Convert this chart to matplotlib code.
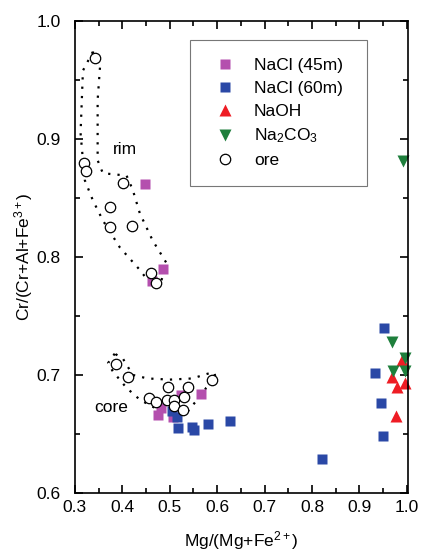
import matplotlib.pyplot as plt
from matplotlib.ticker import MultipleLocator

plt.rcParams['font.family'] = ['Liberation Sans', 'DejaVu Sans']
plt.rcParams['mathtext.fontset'] = 'custom'
plt.rcParams['mathtext.rm'] = 'Liberation Sans'
plt.rcParams['mathtext.it'] = 'Liberation Sans:italic'

# NaCl (45m)
nacl45_x = [0.447, 0.486, 0.462, 0.475, 0.482, 0.507, 0.524, 0.566]
nacl45_y = [0.862, 0.790, 0.780, 0.666, 0.672, 0.664, 0.683, 0.684]
# NaCl (60m)
nacl60_x = [0.504, 0.516, 0.517, 0.546, 0.551, 0.580, 0.628, 0.822, 0.945, 0.950, 0.953, 0.932]
nacl60_y = [0.669, 0.664, 0.655, 0.656, 0.653, 0.658, 0.661, 0.629, 0.676, 0.648, 0.740, 0.702]
# NaOH
naoh_x = [0.990, 0.969, 0.980, 0.997, 0.977]
naoh_y = [0.713, 0.698, 0.690, 0.693, 0.665]
# Na2CO3
na2co3_x = [0.992, 0.969, 0.996, 0.971, 0.997]
na2co3_y = [0.881, 0.728, 0.714, 0.703, 0.703]
# ore
ore_x = [0.342, 0.319, 0.323, 0.374, 0.374, 0.401, 0.420, 0.460, 0.472,
         0.386, 0.412, 0.456, 0.472, 0.496, 0.494, 0.510, 0.510, 0.531, 0.538, 0.529, 0.589]
ore_y = [0.969, 0.880, 0.873, 0.842, 0.825, 0.863, 0.826, 0.786, 0.778,
         0.709, 0.698, 0.680, 0.677, 0.690, 0.679, 0.679, 0.674, 0.681, 0.690, 0.670, 0.696]

# envelopes (dotted outlines)
rim_x = [0.338, 0.317, 0.312, 0.317, 0.321, 0.338, 0.359, 0.395, 0.437, 0.458, 0.479,
         0.493, 0.464, 0.437, 0.422, 0.409, 0.359, 0.348, 0.348, 0.353, 0.338]
rim_y = [0.974, 0.958, 0.905, 0.882, 0.865, 0.848, 0.831, 0.808, 0.789, 0.778, 0.775,
         0.795, 0.814, 0.837, 0.857, 0.869, 0.871, 0.882, 0.933, 0.961, 0.974]
core_x = [0.384, 0.370, 0.380, 0.409, 0.437, 0.464, 0.493, 0.517, 0.538, 0.552, 0.563,
          0.577, 0.598, 0.594, 0.580, 0.548, 0.500, 0.453, 0.422, 0.401, 0.384]
core_y = [0.718, 0.710, 0.703, 0.689, 0.679, 0.673, 0.668, 0.666, 0.669, 0.676, 0.681,
          0.689, 0.696, 0.702, 0.701, 0.697, 0.696, 0.697, 0.700, 0.714, 0.718]

fig = plt.figure(figsize=(4.23, 5.55), dpi=100)
ax = fig.add_axes([0.177, 0.112, 0.788, 0.850])

ax.plot(rim_x, rim_y, color='black', linestyle=(0, (1, 3.2)), linewidth=1.6)
ax.plot(core_x, core_y, color='black', linestyle=(0, (1, 3.2)), linewidth=1.6)

ax.plot(nacl45_x, nacl45_y, 's', color='#b44fae', ms=7, mec='none', label='NaCl (45m)', clip_on=False)
ax.plot(nacl60_x, nacl60_y, 's', color='#2a48a6', ms=7, mec='none', label='NaCl (60m)', clip_on=False)
ax.plot(naoh_x, naoh_y, '^', color='#ee1c24', ms=8.5, mec='none', label='NaOH', clip_on=False)
ax.plot(na2co3_x, na2co3_y, 'v', color='#1e7f3c', ms=8.5, mec='none', label='Na$_2$CO$_3$', clip_on=False)
ax.plot(ore_x, ore_y, 'o', mfc='white', mec='black', mew=0.9, ms=7.5, label='ore', clip_on=False)

ax.text(0.405, 0.891, 'rim', fontsize=12.5, ha='center', va='center')
ax.text(0.377, 0.672, 'core', fontsize=12.5, ha='center', va='center')

ax.set_xlim(0.3, 1.003)
ax.set_ylim(0.6, 1.0)
ax.xaxis.set_major_locator(MultipleLocator(0.1))
ax.xaxis.set_minor_locator(MultipleLocator(0.05))
ax.yaxis.set_major_locator(MultipleLocator(0.1))
ax.yaxis.set_minor_locator(MultipleLocator(0.05))
ax.tick_params(which='both', direction='in', top=True, right=True, labelsize=12.5, width=1.2)
ax.tick_params(which='major', length=5.5)
ax.tick_params(which='minor', length=3.5)
ax.tick_params(axis='y', pad=10)
ax.tick_params(axis='x', pad=5)
ax.xaxis.set_major_formatter(plt.FormatStrFormatter('%.1f'))
ax.yaxis.set_major_formatter(plt.FormatStrFormatter('%.1f'))
for s in ax.spines.values():
    s.set_linewidth(1.2)

ax.set_xlabel('Mg/(Mg+Fe$^{2+}$)', fontsize=12.5, labelpad=10)
ax.set_ylabel('Cr/(Cr+Al+Fe$^{3+}$)', fontsize=12.5, labelpad=1)

leg = ax.legend(loc='upper left', bbox_to_anchor=(0.345, 0.66, 0.532, 0.3), mode='expand',
                borderaxespad=0, fontsize=12.5, frameon=True, fancybox=False,
                edgecolor='#555555', borderpad=1.03, labelspacing=0.45,
                handletextpad=0.63, handlelength=2.03)
leg.get_frame().set_linewidth(0.8)

fig.savefig('out.png', dpi=100)
